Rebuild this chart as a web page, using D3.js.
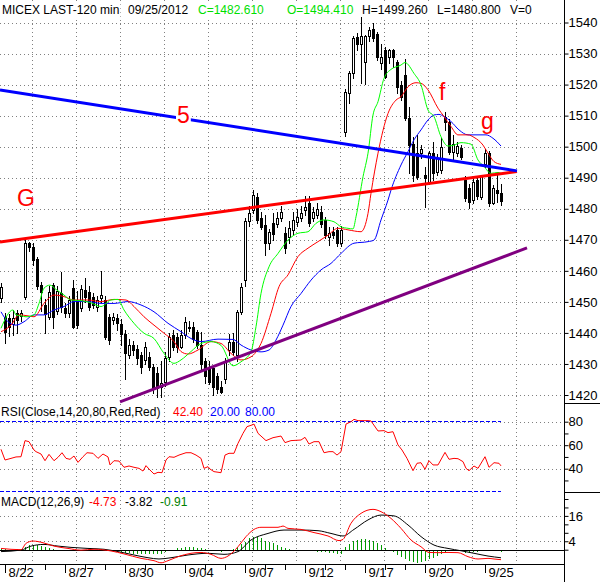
<!DOCTYPE html>
<html><head><meta charset="utf-8">
<script src="https://cdn.jsdelivr.net/npm/d3@7/dist/d3.min.js"></script>
<style>
html,body{margin:0;padding:0;background:#fff;}
svg{display:block;font-family:"Liberation Sans",Arial,Helvetica,sans-serif;}
</style></head><body>
<svg id="chart" width="600" height="582"></svg>
<script>
// ---------- DATA ----------
const dayStarts = [1,6,11,16,21,26,31,36,41,46,51,56,61,66,71,76,81,86,91,96,101,106,111,116,121];
const dateLabels = [[1,"8/22"],[16,"8/27"],[31,"8/30"],[46,"9/04"],[61,"9/07"],[76,"9/12"],[91,"9/17"],[106,"9/20"],[121,"9/25"]];
const gridBars = [8,19,30,41,52,63,74,85,96,107,118,129];
const priceTicks = [1420,1430,1440,1450,1460,1470,1480,1490,1500,1510,1520,1530,1540];
const rsiTicks = [30,40,50,60,70,80];
const rsiGrid = [40,60,80];
const macdTicks = [0,4,8,12,16,20,24];
const macdGrid = [4,16];

const opens = [1451.1,1445.2,1444.7,1442.8,1446.3,1445.3,
1451.7,1468.9,1467.8,1463.7,1455.4,
1449,1445.2,1455.4,1447,1453,
1447.9,1446.3,1454.4,1450.6,1448,
1453.8,1453.3,1451.7,1448.5,1451.1,
1450.6,1445.2,1444.2,1444.7,1443,
1439.8,1432.9,1436.1,1434.7,1432.9,
1431.3,1432.3,1429.1,1427,1422.7,
1424.3,1432.3,1439.3,1438.8,1435.6,
1439.3,1441.5,1442,1440.4,1436,
1431,1429.1,1428.6,1426,1422.7,
1425.3,1434.5,1437,1432.9,1446.8,
1457.2,1476.2,1479.6,1483.9,1476.9,
1474.8,1468.9,1475.3,1475,1477,
1472.1,1471,1473,1475.8,1477,
1479.6,1482,1477,1478,1479,
1476.4,1471,1472.6,1473.2,1468.9,
1504.8,1517.4,1523.6,1535.3,1533,
1527.4,1535.5,1538,1536.3,1527,
1531.2,1529,1531,1527.4,1519.9,
1523.1,1509.1,1501,1498,1497.9,
1490.8,1488.5,1497.9,1492,1492.5,
1509.7,1508.1,1498.4,1498,1499.5,
1489.3,1486.6,1482.8,1489.3,1483.9,
1494.41,1497.9,1482,1486,1485];
const highs = [1456,1446.5,1446,1447.4,1447.5,1447.5,
1470.5,1469.3,1469,1464.5,1456.5,
1451,1455,1456,1455,1459.7,
1449.5,1452,1457,1453.5,1455.5,
1457.8,1455,1453,1452,1459.9,
1452,1446,1446.5,1446,1444.5,
1441,1438,1437.5,1436,1434,
1437,1434,1430,1429,1431,
1434,1440,1441,1440,1441,
1445,1444,1443.6,1441,1440.4,
1432,1431,1429.5,1427,1424.5,
1432,1439.5,1440,1447.5,1456,
1477,1481,1486,1485,1479,
1478,1473.5,1478.5,1479,1481,
1474,1476,1479,1480,1481,
1484,1484,1480.5,1482,1481,
1477.5,1474,1474,1474,1474.5,
1518.5,1524.5,1535.5,1536.5,1542.5,
1536,1538.5,1539.7,1537,1533,
1532,1531.5,1531.5,1528,1521,
1528.1,1512.9,1503,1503.8,1500.5,
1493.6,1498.5,1501.6,1497.5,1502.7,
1511.3,1509,1503.8,1501.5,1500.5,
1490.5,1488,1489.8,1490.5,1491,
1499.26,1498.5,1487.5,1490.8,1488];
const lows = [1450,1436.6,1439,1439.3,1440,1444,
1451,1466.5,1462,1454,1447,
1440,1444.5,1441.5,1446,1446.8,
1445,1445,1441.5,1441.5,1447,
1450,1447.5,1448,1447,1450,
1438,1436.5,1443,1441,1436,
1425.3,1432,1433,1430,1427,
1430,1428,1420.5,1419.5,1419.5,
1423,1431,1434.5,1434,1435,
1438.5,1440.5,1437,1435,1428,
1424,1423.5,1420,1420.8,1420.5,
1424,1433,1433,1431,1446,
1455,1474.5,1478.5,1475.5,1473.5,
1465.1,1467,1469.9,1474,1476,
1465.6,1469,1471.5,1474.5,1476,
1478,1474.5,1476,1477,1474,
1470.5,1468.3,1470.5,1468,1468,
1503.5,1514,1522,1531,1520.4,
1520.2,1534,1534,1528,1525,
1522,1527,1525.8,1517.2,1515,
1508.5,1491.4,1489,1489.5,1496.5,
1480.7,1488,1489.3,1491,1491.4,
1505.4,1497.5,1495.7,1497,1496,
1482.5,1480.1,1482,1483,1483,
1493.5,1480.8,1481.5,1482.3,1481.2];
const closes = [1454.7,1440.4,1442,1444.7,1444.2,1446.3,
1468.9,1467.8,1463.5,1455.1,1453.3,
1446,1453.3,1445.2,1453.5,1448.5,
1446.3,1450.6,1442,1442.5,1454,
1451.7,1448.5,1449,1450.6,1452.2,
1438.8,1437.7,1445.2,1443.1,1439.8,
1433.4,1436.1,1434.5,1431.8,1429.1,
1435.6,1429.1,1422.1,1422.1,1424,
1431.8,1438.8,1435.6,1435.6,1439.3,
1443.6,1442,1438.2,1436.1,1430,
1426,1424.3,1422.7,1422,1421.1,
1430.7,1437.2,1434,1446.8,1454.9,
1476.2,1478.5,1484.4,1476.4,1474.2,
1468.9,1472.6,1472,1476.9,1479,
1467.2,1473.7,1476.4,1477.4,1478.5,
1480.7,1475.5,1479,1480,1475,
1471.5,1472.1,1471.5,1468.9,1473.2,
1517.7,1523.6,1534.9,1533,1535.7,
1535.7,1537.6,1535,1528.8,1529,
1522.6,1531,1529,1519.3,1516.1,
1509.1,1500.5,1490.9,1490.3,1499.2,
1489.8,1497.9,1491.4,1496.5,1499.8,
1508.1,1498.4,1500.9,1500.3,1496.8,
1483.4,1482.3,1488.7,1484,1490.4,
1497.9,1481.8,1486.6,1485,1482.61];

// moving averages: [bar, price]
const maFast = [[0,1441.5],[3,1447.4],[3.75,1445.8],[5,1445.5],[6.25,1445.2],[8.25,1445.8],[9.5,1449.5],[10.75,1454.4],[12.25,1455.4],[13.75,1454],[15.75,1452.2],[17.5,1450.6],[20,1450.4],[22.5,1449.7],[25,1448.5],[27.5,1450.6],[29.25,1450.8],[30.75,1447.4],[33.25,1443.1],[35.75,1439.9],[38.25,1438.2],[40.75,1433.4],[43.25,1430.2],[45,1431.3],[47.5,1434],[50,1436.6],[52.5,1437.2],[55,1436],[58,1429.4],[60,1430.7],[62.5,1433.9],[63.75,1442],[65,1452.7],[67,1461.3],[69.25,1465.6],[71.75,1469.9],[74.25,1472.1],[76.75,1472.6],[78.75,1475.3],[80.75,1476.4],[83.25,1475.8],[85,1474.2],[86.75,1473.7],[88,1473.5],[88.75,1477.4],[90.5,1490.3],[91.75,1497.9],[93,1510.2],[94.25,1514.5],[95.75,1522],[97.5,1524.9],[100,1526.3],[101,1527.1],[103.25,1523.6],[105,1519.9],[106.75,1511.8],[108.25,1509.7],[110,1503.2],[111.75,1500.2],[113.25,1500.5],[115,1501.3],[117.5,1500.8],[119.25,1495.7],[120.75,1493.6],[122.5,1491.4],[124.25,1491.7],[125,1491.4]];
const maMid = [[0,1440.4],[2.5,1442.5],[4.5,1445.8],[6.75,1445.5],[8.25,1445.2],[10.75,1449.5],[13.25,1452.2],[15.75,1451.7],[18.25,1450.6],[21.75,1450.6],[25,1450.1],[28.25,1450.8],[31.25,1450.6],[33.25,1448.5],[35.75,1445.2],[38.25,1442.5],[40.75,1439.9],[43.25,1437.2],[45,1434],[46.75,1433.2],[49.25,1434.5],[52.5,1437.2],[55,1436.6],[57.5,1433.4],[60,1431.3],[62.5,1432.3],[65,1436.6],[67.5,1446.3],[69.5,1454.9],[71.75,1458.7],[74.25,1464.6],[76.75,1467.3],[79.25,1469.4],[81.75,1471.5],[84.25,1473.7],[86.75,1473.2],[90,1472.6],[91.75,1478.5],[92.5,1485],[94.25,1497.9],[96.75,1510.7],[98.75,1515],[100,1516.1],[101.75,1519.3],[103.75,1520.6],[105,1520.4],[106.75,1518.3],[109.25,1512.4],[110.75,1509.7],[112.5,1506.5],[114.25,1503.8],[116.75,1503.8],[118.25,1503],[120.5,1500.5],[121.75,1497.9],[123.25,1495.2],[125,1494.3]];
const maSlow = [[0,1446.8],[1.75,1443.6],[3.75,1442.5],[5.75,1443.6],[8.25,1445.8],[10.75,1445.8],[13.25,1447.4],[15.75,1448.5],[18.25,1450.1],[21.75,1450.1],[25,1449.5],[28.25,1449.5],[31.75,1450.1],[35,1449],[38.25,1446.8],[41.75,1443.1],[45,1440.4],[47.5,1438.2],[50,1437.2],[54.25,1438],[58,1437.9],[60,1436.1],[62.5,1434.5],[65,1433.9],[67,1434.5],[68.75,1437.7],[70.5,1442.5],[72.5,1448.5],[75,1452.7],[77.5,1457],[80,1460.3],[82.5,1462.4],[85,1465.6],[88.25,1468.9],[91.75,1469.4],[93.25,1469.9],[95,1476.4],[96.75,1482.8],[97.5,1486],[100,1494.1],[101.75,1498.4],[103.25,1502.2],[105,1505.4],[106.75,1508.6],[108.25,1510.2],[109.5,1510.4],[110.75,1509.7],[112.5,1508.1],[114.5,1505.4],[116.75,1503.8],[119.25,1503.8],[121.25,1503.8],[123,1502.7],[125,1500.2]];

// hand-drawn trend lines: [bar, price]
const trendBlue = [[-0.25,1518.3],[129,1492.2]];
const trendRed = [[-0.25,1469.3],[129,1492]];
const trendPurple = [[29.75,1417.8],[131.5,1467.4]];
const notes = [["G",4,1480.9],["5",44,1507.6],["f",109.5,1515],["g",120,1505.8]];

// RSI(14): [bar, value]
const rsi = [[0,56.5],[1,47.4],[2.5,48.8],[3.75,50],[5,50.2],[6,63.9],[7,63],[8.25,55.9],[8.75,54.5],[10,52.5],[11,46.8],[12,52.2],[13.25,46.8],[14.25,49.7],[15.25,53.6],[16.25,48.8],[17.25,48],[18.25,50.8],[19.25,45.4],[20.5,50.2],[21.5,53.6],[23,53.1],[24.25,48.8],[25.5,52.5],[26.75,50],[27.25,43.2],[28.25,46.8],[29.5,46.5],[30.75,41.2],[32,42.3],[33.25,41.2],[34.5,40.3],[35.5,38],[36.25,42.6],[37,39.7],[38.25,35.5],[39.25,36.9],[40.25,36.6],[41.25,47.4],[42,50.2],[43.25,49.7],[44.5,51.6],[46.25,53.6],[47.5,53.6],[48.75,51.6],[50,48.8],[50.75,40.3],[51.75,41.7],[52.25,39.7],[53.25,37.5],[55,36.6],[56,51.6],[57,53.1],[58.25,53.1],[59.25,61.6],[60.5,70.1],[61.5,75.8],[62.75,77.2],[63.25,78],[64.25,70.1],[66.25,63.9],[68,66.4],[70,67.8],[71,62.2],[72.5,63.9],[75,64.4],[76,66.7],[77,61],[78.25,63],[79.5,63],[80.75,53.6],[82,54.5],[83,54.5],[84,51.6],[85,54.5],[86.25,78],[87.5,80],[88.25,82],[89.25,80.9],[90.5,80.9],[91.75,80.9],[92.5,80.6],[94.25,72.1],[95.75,72.4],[96.75,70.7],[98,71.5],[99.25,60.2],[100.25,55.9],[101.5,48.8],[103,38.3],[104,44.6],[105,45.1],[106,39.5],[107,46.8],[108,43.2],[109.25,43.2],[111,53.9],[112,48],[113.25,48.8],[114.25,48.5],[115.5,46],[116.25,40.3],[117,38.3],[118.25,42.3],[119.25,40.3],[121,50.2],[122,41.2],[123.25,45.1],[124.5,44.6],[125,42.4]];
const rsiLow = 20, rsiHigh = 80, rsiLast = 42.40;

// MACD(12,26,9): [bar, value]
const macdLine = [[0,0.6],[5,0],[6.25,3],[8,4.1],[10.5,3.3],[13.25,1.7],[16.75,0.6],[20,-0.2],[23.25,0.2],[27.5,-0.6],[30.75,-2],[35,-4.1],[38.25,-5.2],[40,-6.2],[41.75,-5.2],[44.25,-3.3],[47.5,-1.7],[50,-1.3],[52.5,-2.2],[55,-4.1],[56.75,-3],[59.25,1.4],[61.25,6.2],[63.25,9.6],[65,10.6],[69.25,10.6],[70.5,11.2],[71.75,10.1],[75,9.6],[78.25,8.1],[81.75,6.5],[84.5,4.3],[85.5,4.9],[87.5,12.5],[90,17.2],[93,19.1],[95,18],[97.5,14.8],[100,10.1],[102.5,4.6],[105,1.4],[107,-1.3],[109.25,-1.4],[111.75,-1.3],[114.25,-1.4],[116.75,-3.3],[119.25,-4.4],[121.75,-4.1],[123.25,-4.4],[125,-4.73]];
const signalLine = [[0,-0.9],[5,-0.2],[7.5,1.7],[10.75,2.5],[14.25,1.7],[17.5,1.1],[21.75,0.6],[25.75,0.2],[29.25,-0.9],[33.25,-2.5],[36.75,-3.8],[39.5,-4.4],[42.5,-3.8],[46.75,-2.5],[51.75,-1.7],[55.75,-2.2],[59.25,-0.9],[62.5,4.6],[66.75,7.7],[70.75,9.3],[75,9.3],[79.25,9],[82.5,7.7],[85.5,6.5],[88.25,9.6],[91.75,14.1],[95,16.4],[98.25,16],[101.75,11.7],[105,6.2],[108.25,2.2],[111.75,0.6],[115,-0.5],[118.25,-1.7],[121.75,-3],[125,-3.82]];
const histogram = [0.3,0.2,0,-0.2,0.3,
0.5,1.2,2.0,2.2,2.0,1.6,1.2,
0.6,0.2,-0.2,-0.4,-0.6,
-0.6,-0.4,-0.5,-0.3,-0.2,-0.3,-0.2,0,0.2,0.1,-0.2,
-0.6,-0.9,-1.2,-1.5,-1.6,-1.8,-2.0,-2.0,-2.1,-2.0,-2.2,-2.0,-1.8,
-1.2,-0.6,0,0.6,1.0,1.2,1.2,1.1,
1.0,0.6,0.2,-0.3,-0.6,-0.8,-0.9,-0.6,
-0.2,0.3,1.2,2.5,
3.8,5.4,6.2,6.0,5.4,4.3,3.6,3.0,2.4,1.5,
0.8,0.4,0,-0.3,-0.4,-0.5,
-0.6,-0.7,-0.9,-1.1,-1.3,-1.5,-1.7,-2.0,-2.0,
1.5,2.8,4.0,4.6,5.0,5.0,4.6,4.0,3.2,2.0,1.0,
0,-1.2,-2.4,-3.4,-4.4,-5.4,-6.0,-6.2,-6.0,-5.4,-4.6,-3.8,-3.0,-2.0,
-1.2,-0.6,-0.2,-0.4,-0.8,-1.4,-1.5,-1.2,-1.0,-0.8,-0.6,-0.6,-0.6,-0.8,-0.91];
const macdLast = -4.73, signalLast = -3.82, histLast = -0.91;

const header = [["MICEX LAST-120 min","#000"],["09/25/2012","#000"],["C=1482.610","#00e000"],["O=1494.410","#00e000"],["H=1499.260","#000"],["L=1480.800","#000"],["V=0","#000"]];

// ---------- DRAW ----------
const svg = d3.select("#chart");
svg.append("rect").attr("width",600).attr("height",582).attr("fill","#fff");
const AX = 564;
const x = d3.scaleLinear().domain([0,141]).range([1,565]);
const yP = d3.scaleLinear().domain([1420,1540]).range([395,22.5]);
const yR = d3.scaleLinear().domain([40,80]).range([468.7,421.7]);
const yM = d3.scaleLinear().domain([0,16]).range([549.7,515.9]);
const px = v => Math.round(v) + 0.5;

// grid
const grid = svg.append("g").attr("stroke","#808080").attr("stroke-width",1).attr("stroke-dasharray","1,3");
const hLine = (yy, x1, x2) => grid.append("line").attr("x1",x1).attr("x2",x2).attr("y1",px(yy)).attr("y2",px(yy));
priceTicks.forEach(v => hLine(yP(v), 0, AX));
rsiGrid.forEach(v => hLine(yR(v), 0, AX));
macdGrid.forEach(v => hLine(yM(v), 0, AX));
gridBars.forEach(j => grid.append("line").attr("x1",px(x(j)-1)).attr("x2",px(x(j)-1)).attr("y1",0).attr("y2",562));

// RSI 20/80 bands
const lastX = x(closes.length - 1);
[rsiLow, rsiHigh].forEach(v => svg.append("line").attr("x1",0).attr("x2",lastX)
  .attr("y1",px(yR(v))-1).attr("y2",px(yR(v))-1).attr("stroke","#0000ff").attr("stroke-dasharray","4,2"));

// MACD histogram + zero line
svg.append("g").selectAll("line").data(histogram).join("line")
  .attr("x1",(d,j)=>Math.round(x(j))+0.5).attr("x2",(d,j)=>Math.round(x(j))+0.5)
  .attr("y1",Math.round(yM(0))).attr("y2",d=>Math.round(yM(d))).attr("stroke","#009a00");
svg.append("line").attr("x1",0).attr("x2",AX).attr("y1",px(yM(0))).attr("y2",px(yM(0))).attr("stroke","#000");

// candles
const cg = svg.append("g");
closes.forEach((c,j) => {
  const o = opens[j], h = highs[j], l = lows[j];
  const cx = Math.round(x(j));
  cg.append("line").attr("x1",cx+0.5).attr("x2",cx+0.5).attr("y1",Math.round(yP(h))).attr("y2",Math.round(yP(l))+1).attr("stroke","#000");
  const t = Math.round(yP(Math.max(o,c))), b = Math.round(yP(Math.min(o,c)));
  if (c >= o) {
    cg.append("rect").attr("x",cx-0.5).attr("y",t+0.5).attr("width",2).attr("height",Math.max(1,b-t))
      .attr("fill","#fff").attr("stroke","#000");
  } else {
    cg.append("rect").attr("x",cx-1).attr("y",t).attr("width",3).attr("height",Math.max(2,b-t+1)).attr("fill","#000");
  }
});

// indicator lines
const lineP = d3.line().x(d=>x(d[0])).y(d=>yP(d[1])).curve(d3.curveMonotoneX);
const lineR = d3.line().x(d=>x(d[0])).y(d=>yR(d[1])).curve(d3.curveLinear);
const lineM = d3.line().x(d=>x(d[0])).y(d=>yM(d[1])).curve(d3.curveMonotoneX);
[[maSlow,"#0000ff"],[maMid,"#ff0000"],[maFast,"#00ff00"]].forEach(([d,c]) =>
  svg.append("path").attr("d",lineP(d)).attr("fill","none").attr("stroke",c).attr("stroke-width",1));
svg.append("path").attr("d",lineR(rsi)).attr("fill","none").attr("stroke","#ff0000");
svg.append("path").attr("d",lineM(signalLine)).attr("fill","none").attr("stroke","#000");
svg.append("path").attr("d",lineM(macdLine)).attr("fill","none").attr("stroke","#ff0000");

// trend lines
const lineT = d3.line().x(d=>x(d[0])).y(d=>yP(d[1]));
[[trendRed,"#ff0000"],[trendBlue,"#0000ff"],[trendPurple,"#800080"]].forEach(([d,c]) =>
  svg.append("path").attr("d",lineT(d)).attr("fill","none").attr("stroke",c).attr("stroke-width",3));

// axes
svg.append("line").attr("x1",AX+0.5).attr("x2",AX+0.5).attr("y1",0).attr("y2",582).attr("stroke","#000");
svg.append("line").attr("x1",0).attr("x2",AX).attr("y1",564.5).attr("y2",564.5).attr("stroke","#000");
[403.5,492.5].forEach(yy => svg.append("line").attr("x1",AX).attr("x2",600).attr("y1",yy).attr("y2",yy).attr("stroke","#000"));

function styleAxis(g){ g.select(".domain").remove(); g.attr("font-size",13).attr("font-family",null); g.selectAll("text").attr("fill","#000"); }
svg.append("g").attr("transform",`translate(${AX+0.5},0)`)
  .call(d3.axisRight(yP).tickValues(priceTicks).tickSize(4).tickPadding(0).tickFormat(d3.format("d"))).call(styleAxis);
svg.append("g").attr("transform",`translate(${AX+0.5},0)`)
  .call(d3.axisRight(yR).tickValues(rsiTicks).tickSize(4).tickPadding(0).tickFormat(d => rsiGrid.includes(d) ? d : "")).call(styleAxis);
svg.append("g").attr("transform",`translate(${AX+0.5},0)`)
  .call(d3.axisRight(yM).tickValues(macdTicks).tickSize(4).tickPadding(0).tickFormat(d => macdGrid.includes(d) ? d : "")).call(styleAxis);
const labMap = new Map(dateLabels);
const gx = svg.append("g").attr("transform","translate(0,564)")
  .call(d3.axisBottom(x).tickValues(dayStarts).tickSize(7).tickFormat(j => labMap.get(j) || "")).call(styleAxis);
gx.selectAll(".tick line").attr("y2", j => labMap.has(j) ? 9 : 6);
gx.selectAll(".tick text").attr("text-anchor","start").attr("x",3).attr("y",4);

// texts
function txt(x0, y0, s, color, size, bg){
  const t = svg.append("text").attr("x",x0).attr("y",y0).attr("fill",color).attr("font-size",size).text(s);
  if (bg) {
    const b = t.node().getBBox();
    svg.insert("rect", () => t.node()).attr("x",b.x-1).attr("y",b.y+1).attr("width",b.width+2).attr("height",b.height-1).attr("fill","#fff");
  }
  return t;
}
const headX = [2,128,198,287,362,437,510];
header.forEach(([s,c],i) => txt(headX[i], 14, s, c, 12, true));

txt(1, 416, "RSI(Close,14,20,80,Red,Red)", "#000", 12, true);
txt(173, 416, rsiLast.toFixed(2), "#ff0000", 12, true);
txt(210, 416, rsiLow.toFixed(2), "#0000ff", 12, true);
txt(245, 416, rsiHigh.toFixed(2), "#0000ff", 12, true);

txt(1, 506, "MACD(12,26,9)", "#000", 12, true);
txt(89, 506, macdLast.toFixed(2), "#ff0000", 12, true);
txt(125, 506, signalLast.toFixed(2), "#000", 12, true);
txt(160, 506, histLast.toFixed(2), "#008000", 12, true);

notes.forEach(([s,j,p]) => txt(x(j), yP(p), s, "#ff0000", 23, s === "5"));
</script>
</body></html>
